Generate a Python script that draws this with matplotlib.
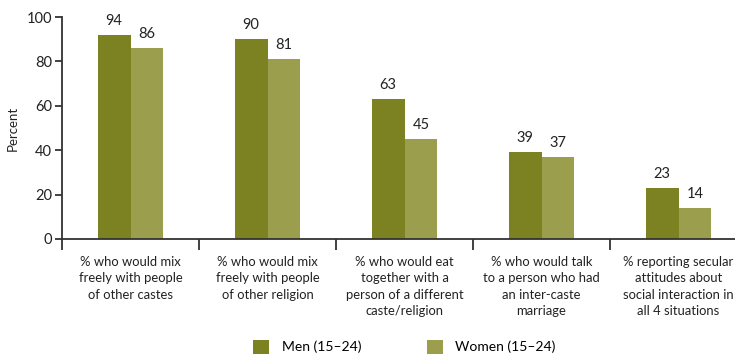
import matplotlib.pyplot as plt
import numpy as np

plt.rcParams['font.family'] = ['Lato', 'DejaVu Sans']

# categorias y valores
categorias = ['% who would mix\nfreely with people\nof other castes',
              '% who would mix\nfreely with people\nof other religion',
              '% who would eat\ntogether with a\nperson of a different\ncaste/religion',
              '% who would talk\nto a person who had\nan inter-caste\nmarriage',
              '% reporting secular\nattitudes about\nsocial interaction in\nall 4 situations']
hombres_barra = [92, 90, 63, 39, 23]   # altura dibujada en la figura original
hombres_etiq = [94, 90, 63, 39, 23]
mujeres = [86, 81, 45, 37, 14]
series_nombres = ['Men (15\u201324)', 'Women (15\u201324)']

col_h = '#7c8222'
col_m = '#9b9f4d'
gris = '#333333'

fig = plt.figure(figsize=(7.35, 3.55), dpi=100)
ax = fig.add_axes([0.0844, 0.327, 0.932, 0.625])

x = np.arange(len(categorias))
ancho = 0.24
b1 = ax.bar(x - ancho / 2, hombres_barra, ancho, color=col_h, label=series_nombres[0])
b2 = ax.bar(x + ancho / 2, mujeres, ancho, color=col_m, label=series_nombres[1])

for rect, v in zip(b1, hombres_etiq):
    ax.annotate(str(v), (rect.get_x() + rect.get_width() / 2, rect.get_height()),
                xytext=(0, 10), textcoords='offset points', ha='center', va='center',
                fontsize=10.5, color='#222222')
for rect, v in zip(b2, mujeres):
    ax.annotate(str(v), (rect.get_x() + rect.get_width() / 2, rect.get_height()),
                xytext=(0, 10), textcoords='offset points', ha='center', va='center',
                fontsize=10.5, color='#222222')

ax.set_xlim(-0.5, 4.5)
ax.set_ylim(0, 100)
ax.set_yticks([0, 20, 40, 60, 80, 100])
ax.tick_params(axis='y', direction='out', length=5, width=1.3, color=gris,
               labelsize=10.5, labelcolor='#222222', pad=2)

# ticks mayores en los limites, menores con las etiquetas
ax.set_xticks(np.arange(-0.5, 4.6, 1.0))
ax.set_xticklabels([])
ax.tick_params(axis='x', which='major', direction='out', length=8, width=1.3, color=gris)
ax.set_xticks(x, minor=True)
ax.set_xticklabels(categorias, minor=True, fontsize=9.4, color='#222222', linespacing=1.45)
ax.tick_params(axis='x', which='minor', length=0, pad=12)

for s in ['top', 'right']:
    ax.spines[s].set_visible(False)
for s in ['left', 'bottom']:
    ax.spines[s].set_color(gris)
    ax.spines[s].set_linewidth(1.3)

ax.set_ylabel('Percent', fontsize=9.5, color='#222222', labelpad=6)

ax.legend(loc='center', bbox_to_anchor=(0.5, -0.486), ncol=2, frameon=False,
          fontsize=10, handlelength=1.15, handleheight=1.15, columnspacing=4.7,
          handletextpad=0.9)

fig.savefig('out.png', dpi=100)
